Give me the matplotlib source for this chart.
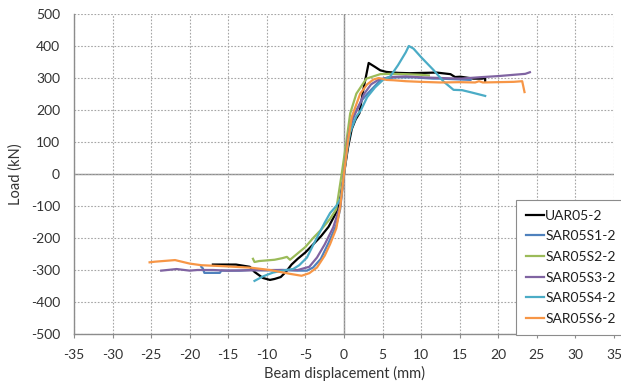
import matplotlib
matplotlib.use("Agg")
import matplotlib.pyplot as plt

# (beam displacement in mm, load in kN)
uar_x = [-17.0, -16.5, -14.0, -12.2, -11.6, -10.5, -9.6, -9.0, -8.2, -7.5, -6.8, -6.0, -5.0, -4.0,
         -3.0, -2.0, -1.0, -0.5, 0.0, 0.5, 1.0, 1.5, 2.0, 2.5, 3.2, 4.0, 4.7, 5.5, 7.0, 8.5, 10.3,
         12.0, 13.8, 14.4, 15.1, 16.8, 17.9, 18.3, 18.3]
uar_y = [-283, -283, -283, -290, -306, -325, -331, -328, -322, -305, -283, -265, -245, -220,
         -195, -165, -120, -80, 0, 80, 140, 170, 190, 263, 347, 335, 324, 319, 316, 315, 316,
         317, 312, 303, 304, 298, 298, 300, 288]

s1_x = [-18.5, -18.3, -18.1, -16.1, -15.9, -13.5, -12.2, -10.0, -8.0, -6.0, -4.8, -4.0, -3.0, -2.0,
        -1.0, -0.5, 0.0, 0.5, 1.0, 1.5, 2.3, 3.0, 4.0, 4.7, 5.5, 7.0, 9.0, 11.6, 12.5, 14.5, 16.4]
s1_y = [-290, -295, -309, -309, -302, -302, -300, -301, -300, -302, -302, -292, -265, -215,
        -160, -110, 0, 100, 160, 195, 230, 250, 275, 293, 300, 302, 302, 298, 298, 296, 294]

s2_x = [-11.8, -11.6, -11.0, -10.0, -9.0, -8.0, -7.4, -7.0, -6.5, -5.0, -4.0, -3.0, -1.8, -1.0,
        -0.3, 0.3, 0.8, 1.6, 2.9, 4.7, 6.0, 8.0, 10.0, 11.0]
s2_y = [-265, -275, -272, -270, -268, -263, -259, -268, -258, -228, -200, -175, -140, -110,
        0, 100, 189, 251, 298, 312, 313, 312, 310, 308]

s3_x = [-23.7, -21.7, -20.0, -19.0, -17.0, -15.0, -12.0, -9.0, -6.0, -4.5, -3.5, -2.5, -1.4, -0.5,
        0.0, 0.5, 1.0, 1.7, 2.6, 3.5, 4.5, 6.0, 8.0, 10.0, 12.5, 15.1, 18.0, 20.0, 22.0, 23.5, 24.1]
s3_y = [-302, -297, -302, -300, -300, -302, -301, -300, -300, -290, -261, -220, -167, -100,
        0, 110, 170, 200, 250, 280, 295, 303, 305, 302, 300, 298, 303, 306, 310, 313, 318]

s4_x = [-11.6, -10.5, -9.2, -7.5, -6.6, -5.8, -4.8, -4.0, -3.1, -2.5, -1.8, -1.0, -0.4, 0.0,
        0.3, 0.8, 1.6, 2.2, 3.0, 4.0, 5.0, 6.0, 7.0, 8.0, 8.4, 9.0, 10.0, 11.6, 12.9, 14.2, 15.3,
        16.5, 18.3]
s4_y = [-334, -320, -308, -300, -297, -285, -261, -222, -180, -152, -122, -100, -75, 0,
        60, 130, 180, 200, 240, 270, 293, 305, 340, 380, 400, 392, 365, 325, 289, 263, 262,
        255, 244]

s6_x = [-25.2, -24.5, -21.9, -20.0, -18.5, -15.7, -12.0, -9.6, -7.0, -5.5, -4.5, -3.5, -2.5, -1.8,
        -1.0, -0.5, 0.0, 0.5, 1.0, 2.1, 3.0, 3.8, 4.5, 5.5, 6.4, 8.0, 9.9, 12.5, 15.0, 17.0,
        17.5, 18.0, 20.0, 22.0, 23.1, 23.4]
s6_y = [-276, -274, -269, -280, -285, -288, -293, -300, -312, -318, -310, -292, -255, -219,
        -170, -104, 0, 100, 178, 251, 280, 295, 300, 294, 293, 290, 288, 286, 287, 286,
        290, 286, 287, 288, 290, 256]

series = [
    ("UAR05-2", uar_x, uar_y, "#000000"),
    ("SAR05S1-2", s1_x, s1_y, "#4F81BD"),
    ("SAR05S2-2", s2_x, s2_y, "#9BBB59"),
    ("SAR05S3-2", s3_x, s3_y, "#8064A2"),
    ("SAR05S4-2", s4_x, s4_y, "#4BACC6"),
    ("SAR05S6-2", s6_x, s6_y, "#F79646"),
]

plt.rcParams["font.family"] = ["Lato", "DejaVu Sans"]
plt.rcParams["font.size"] = 10
plt.rcParams["axes.unicode_minus"] = False
text_color = "#333333"

fig = plt.figure(figsize=(6.21, 3.85), dpi=100)
ax = fig.add_axes([74 / 621, 1 - 334 / 385, 540 / 621, 320 / 385])

ax.grid(True, color="#a6a6a6", linestyle=(0, (1.5, 1.5)), linewidth=0.8)
ax.axhline(0, color="#8c8c8c", linewidth=1.0, zorder=1.5)
ax.axvline(0, color="#8c8c8c", linewidth=1.0, zorder=1.5)

for name, xs, ys, col in series:
    ax.plot(xs, ys, color=col, linewidth=1.6, label=name, zorder=3)

ax.set_xlim(-35, 35)
ax.set_ylim(-500, 500)
ax.set_xticks(range(-35, 36, 5))
ax.set_yticks(range(-500, 501, 100))

for side in ["top", "right"]:
    ax.spines[side].set_visible(False)
for side in ["left", "bottom"]:
    ax.spines[side].set_color("#8c8c8c")
    ax.spines[side].set_linewidth(1.0)

ax.tick_params(axis="y", length=0, pad=10, labelcolor=text_color, labelsize=10)
ax.tick_params(axis="x", length=3, color="#8c8c8c", pad=8, labelcolor=text_color, labelsize=10)

ax.set_xlabel("Beam displacement (mm)", color=text_color, fontsize=10.5, labelpad=3)
ax.set_ylabel("Load (kN)", color=text_color, fontsize=10.5, labelpad=6)

leg = ax.legend(loc="upper left", bbox_to_anchor=(516 / 621, 1 - 200 / 385),
                bbox_transform=fig.transFigure, borderaxespad=0, frameon=True,
                fancybox=False, framealpha=1, edgecolor="#8c8c8c", fontsize=10,
                handlelength=1.3, handletextpad=0.1, labelspacing=0.62, borderpad=0.7)
leg.get_frame().set_linewidth(0.8)
for t in leg.get_texts():
    t.set_color("#202020")

fig.savefig("out.png", dpi=100)
